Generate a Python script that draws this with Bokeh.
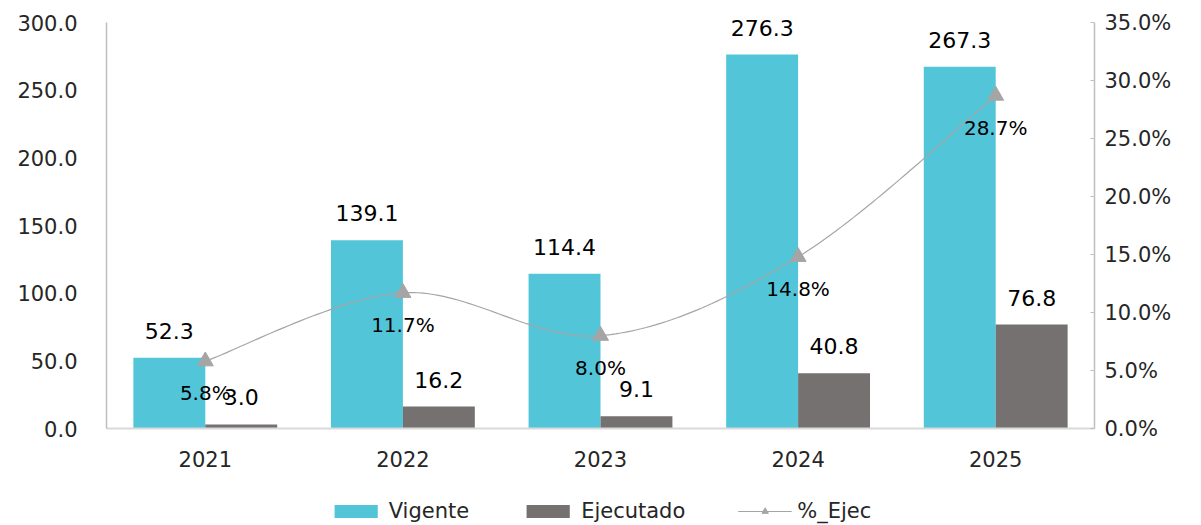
import numpy as np
from bokeh.plotting import figure
from bokeh.layouts import column
from bokeh.models import (Range1d, LinearAxis, PrintfTickFormatter, FixedTicker,
                          ColumnDataSource, Legend, LegendItem, LabelSet)
from bokeh.core.properties import value
from bokeh.embed import file_html
from bokeh.resources import INLINE

years = ["2021", "2022", "2023", "2024", "2025"]
vigente = [52.3, 139.1, 114.4, 276.3, 267.3]
ejecutado = [3.0, 16.2, 9.1, 40.8, 76.8]
pct_ejec = [5.8, 11.7, 8.0, 14.8, 28.7]
left_ticks = [0, 50, 100, 150, 200, 250, 300]
right_ticks = [0, 5, 10, 15, 20, 25, 30, 35]

FONT = "DejaVu Sans"
C_VIG = "#52C5D9"
C_EJE = "#767171"
C_PCT = "#A5A5A5"
AX = "#BFBFBF"
TXT = "#262626"

xc = np.arange(len(years)) + 0.5
bw = 0.364

# frame extends 20px above the 300 line so that top labels are not clipped
AXIS_PX = 406.0
PAD_PX = 20.0
ymax_l = 300 * (AXIS_PX + PAD_PX) / AXIS_PX
ymax_r = 35 * (AXIS_PX + PAD_PX) / AXIS_PX

p = figure(width=1201, height=478, x_range=Range1d(0, 5), y_range=Range1d(0, ymax_l),
           output_backend="svg", toolbar_location=None,
           min_border_left=106, min_border_right=107, min_border_top=2, min_border_bottom=50)
p.extra_y_ranges = {"pct": Range1d(0, ymax_r)}
p.outline_line_color = None
p.xgrid.visible = False
p.ygrid.visible = False

src = ColumnDataSource(dict(
    xv=xc - bw / 2, xe=xc + bw / 2, xc=xc,
    vig=vigente, eje=ejecutado, pct=pct_ejec,
    vig_t=[f"{v:.1f}" for v in vigente],
    eje_t=[f"{v:.1f}" for v in ejecutado],
    pct_t=[f"{v:.1f}%" for v in pct_ejec],
))

r_v = p.vbar(x="xv", top="vig", width=bw, source=src, fill_color=C_VIG, line_color=None)
r_e = p.vbar(x="xe", top="eje", width=bw, source=src, fill_color=C_EJE, line_color=None)


def smooth(xs, ys, n=40):
    pts = np.column_stack([xs, ys]).astype(float)
    out = []
    m = len(pts)
    for i in range(m - 1):
        p0 = pts[max(i - 1, 0)]
        p1 = pts[i]
        p2 = pts[i + 1]
        p3 = pts[min(i + 2, m - 1)]
        c1 = p1 + (p2 - p0) / 6.0
        c2 = p2 - (p3 - p1) / 6.0
        t = np.linspace(0, 1, n)[:, None]
        seg = (1 - t) ** 3 * p1 + 3 * (1 - t) ** 2 * t * c1 + 3 * (1 - t) * t ** 2 * c2 + t ** 3 * p2
        out.append(seg if i == 0 else seg[1:])
    return np.vstack(out)


curve = smooth(xc, pct_ejec)
p.line(curve[:, 0], curve[:, 1], y_range_name="pct", line_color=C_PCT, line_width=1.2)
p.scatter(x="xc", y="pct", source=src, y_range_name="pct", marker="triangle",
          size=16, fill_color=C_PCT, line_color=C_PCT)

lab_kw = dict(text_font=value(FONT), text_font_size="22px", text_color="#000000",
              text_align="center", text_baseline="middle", source=src)
p.add_layout(LabelSet(x="xv", y="vig", text="vig_t", y_offset=27, **lab_kw))
p.add_layout(LabelSet(x="xe", y="eje", text="eje_t", y_offset=27, **lab_kw))
p.add_layout(LabelSet(x="xc", y="pct", text="pct_t", y_offset=-32, y_range_name="pct",
                      text_font=value(FONT), text_font_size="20px", text_color="#000000",
                      text_align="center", text_baseline="middle", source=src))

# axes
p.xaxis.ticker = FixedTicker(ticks=list(xc))
p.xaxis.major_label_overrides = {float(x): y for x, y in zip(xc, years)}
p.xaxis.major_tick_line_color = None
p.xaxis.minor_tick_line_color = None
p.xaxis.axis_line_color = "#D9D9D9"
p.xaxis.axis_line_width = 2
p.xaxis.major_label_text_font = FONT
p.xaxis.major_label_text_font_size = "21px"
p.xaxis.major_label_text_color = TXT
p.xaxis.major_label_standoff = 16

p.yaxis.ticker = FixedTicker(ticks=left_ticks)
p.yaxis.bounds = (0, 300)
p.yaxis.formatter = PrintfTickFormatter(format="%.1f")
p.yaxis.major_tick_line_color = None
p.yaxis.minor_tick_line_color = None
p.yaxis.axis_line_color = AX
p.yaxis.axis_line_width = 1.5
p.yaxis.major_label_text_font = FONT
p.yaxis.major_label_text_font_size = "21px"
p.yaxis.major_label_text_color = TXT
p.yaxis.major_label_standoff = 23

ra = LinearAxis(y_range_name="pct", ticker=FixedTicker(ticks=right_ticks), bounds=(0, 35),
                formatter=PrintfTickFormatter(format="%.1f%%"))
ra.major_tick_in = 4
ra.major_tick_out = 0
ra.major_tick_line_color = AX
ra.minor_tick_line_color = None
ra.axis_line_color = AX
ra.axis_line_width = 1.5
ra.major_label_text_font = FONT
ra.major_label_text_font_size = "21px"
ra.major_label_text_color = TXT
ra.major_label_standoff = 10
p.add_layout(ra, "right")

# legend strip below the chart (legend proxies sit outside the visible range)
lg = figure(width=1201, height=47, x_range=Range1d(0, 1), y_range=Range1d(0, 1),
            output_backend="svg", toolbar_location=None,
            min_border_left=0, min_border_right=0, min_border_top=18, min_border_bottom=0)
lg.axis.visible = False
lg.grid.visible = False
lg.outline_line_color = None
g_v = lg.vbar(x=[-5], top=[-5], width=0.1, fill_color=C_VIG, line_color=None)
g_e = lg.vbar(x=[-5], top=[-5], width=0.1, fill_color=C_EJE, line_color=None)
g_l = lg.line(x=[-5, -4], y=[-5, -5], line_color=C_PCT, line_width=1.2)
g_m = lg.scatter(x=[-5], y=[-5], marker="triangle", size=16, fill_color=C_PCT, line_color=C_PCT)

legend = Legend(items=[
    LegendItem(label="Vigente", renderers=[g_v]),
    LegendItem(label="Ejecutado", renderers=[g_e]),
    LegendItem(label="%_Ejec", renderers=[g_l, g_m]),
], orientation="horizontal", location="center")
legend.border_line_color = None
legend.background_fill_alpha = 0
legend.label_text_font = FONT
legend.label_text_font_size = "21px"
legend.label_text_color = TXT
legend.glyph_width = 54
legend.glyph_height = 16
legend.spacing = 52
legend.label_standoff = 6
legend.padding = 0
legend.margin = 0
lg.add_layout(legend)

layout = column(p, lg, spacing=0)
open("out.html", "w").write(file_html(layout, INLINE))
